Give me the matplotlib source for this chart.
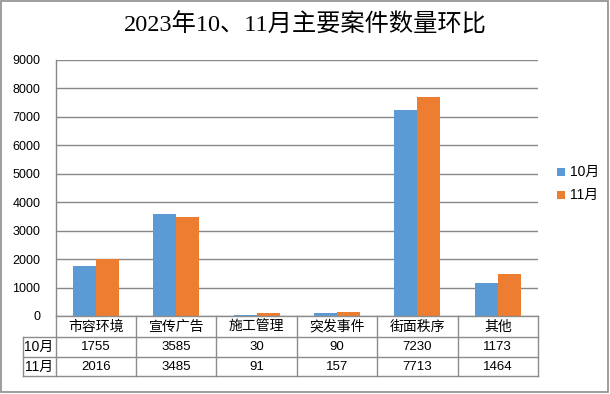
import matplotlib
matplotlib.use("Agg")
import matplotlib.pyplot as plt
from matplotlib.patches import Rectangle
from matplotlib.lines import Line2D
import numpy as np

categories = ["市容环境", "宣传广告", "施工管理", "突发事件", "街面秩序", "其他"]
oct_vals = [1755, 3585, 30, 90, 7230, 1173]
nov_vals = [2016, 3485, 91, 157, 7713, 1464]
series_names = ["10月", "11月"]
title = "2023年10、11月主要案件数量环比"
yticks = [0, 1000, 2000, 3000, 4000, 5000, 6000, 7000, 8000, 9000]

W, H = 610, 394
BLUE = "#5B9BD5"
ORANGE = "#ED7D31"
GRID = "#888888"
sans = ["Liberation Sans", "Noto Sans CJK SC"]
cjk = ["Noto Sans CJK SC", "DejaVu Sans"]

fig = plt.figure(figsize=(W / 100, H / 100), dpi=100)
fx = lambda x: x / W
fy = lambda y: 1 - y / H

# outer border
fig.patches.append(Rectangle((fx(1), fy(392)), fx(607), 391 / H, transform=fig.transFigure,
                             fill=False, edgecolor="#8c8c8c", linewidth=1.2))

L, R, T, B = 55.5, 538, 60, 316
ax = fig.add_axes([fx(L), fy(B), fx(R - L), (B - T) / H])
x = np.arange(len(categories))
bw = 0.286
ax.bar(x - bw / 2, oct_vals, bw, color=BLUE, zorder=3)
ax.bar(x + bw / 2, nov_vals, bw, color=ORANGE, zorder=3)
ax.set_xlim(-0.5, len(categories) - 0.5)
ax.set_ylim(0, 9000)
ax.set_yticks(yticks)
ax.set_yticklabels([str(v) for v in yticks], family=sans, fontsize=9)
ax.tick_params(axis="y", length=0, pad=11)
ax.set_xticks([])
ax.grid(axis="y", color=GRID, linewidth=1, zorder=0)
for s in ["top", "right", "bottom"]:
    ax.spines[s].set_visible(False)
ax.spines["left"].set_color(GRID)
ax.spines["left"].set_linewidth(1)

# title
fig.text(0.5, fy(25), title, ha="center", va="center", fontsize=17.5,
         family=["Liberation Serif", "Noto Sans CJK SC"])

# data table
col_edges = np.linspace(L, R, len(categories) + 1)
TL = 23
rows = [316, 337, 357, 376]
tc = "#8c8c8c"
def hline(y, x0, x1):
    fig.add_artist(Line2D([fx(x0), fx(x1)], [fy(y), fy(y)], transform=fig.transFigure, color=tc, lw=1))
def vline(x, y0, y1):
    fig.add_artist(Line2D([fx(x), fx(x)], [fy(y0), fy(y1)], transform=fig.transFigure, color=tc, lw=1))

hline(rows[1], TL, R)
hline(rows[2], TL, R)
hline(rows[3], TL, R)
hline(rows[0], L, R)
vline(TL, rows[1], rows[3])
for ce in col_edges:
    vline(ce, rows[0], rows[3])

for i, c in enumerate(categories):
    cx = (col_edges[i] + col_edges[i + 1]) / 2
    fig.text(fx(cx), fy((rows[0] + rows[1]) / 2), c, ha="center", va="center", fontsize=10, family=cjk)
    fig.text(fx(cx), fy((rows[1] + rows[2]) / 2), str(oct_vals[i]), ha="center", va="center", fontsize=9.5, family=sans)
    fig.text(fx(cx), fy((rows[2] + rows[3]) / 2), str(nov_vals[i]), ha="center", va="center", fontsize=9.5, family=sans)

for j, (name, color) in enumerate(zip(series_names, [BLUE, ORANGE])):
    yc = (rows[j + 1] + rows[j + 2]) / 2
    fig.text(fx(TL + 16), fy(yc), name, ha="center", va="center", fontsize=10, family=sans)
    # legend
    ly = 172 + j * 23
    fig.patches.append(Rectangle((fx(557), fy(ly + 4)), fx(8), 8 / H, transform=fig.transFigure,
                                 facecolor=color, edgecolor="none"))
    fig.text(fx(570), fy(ly), name, ha="left", va="center", fontsize=10, family=sans)

fig.savefig("out.png", dpi=100)
